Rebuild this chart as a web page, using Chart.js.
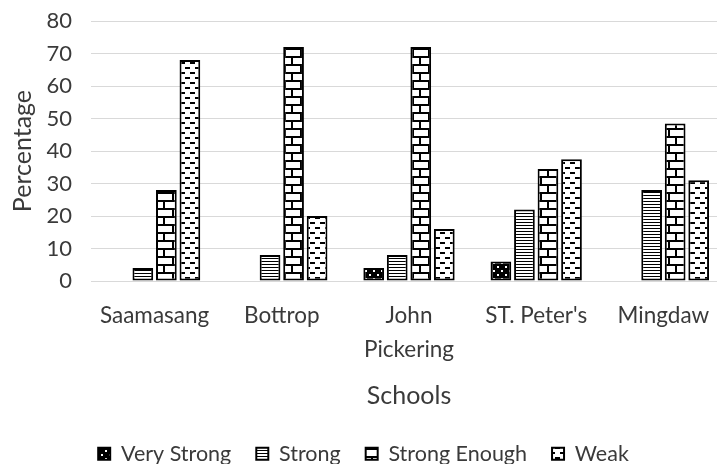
<!DOCTYPE html>
<html>
<head>
<meta charset="utf-8">
<script src="https://cdn.jsdelivr.net/npm/chart.js@4"></script>
<style>
  html, body { margin: 0; padding: 0; background: #fff; overflow: hidden; }
  .wrap { position: relative; width: 762px; height: 464px; }
</style>
</head>
<body>
<div class="wrap"><canvas id="chart"></canvas></div>
<script>
const schools = ['Saamasang', 'Bottrop', ['John', 'Pickering'], "ST. Peter's", 'Mingdaw'];
const veryStrong = [0, 0, 4, 6, 0];
const strong = [4, 8, 8, 22, 28];
const strongEnough = [28, 72, 72, 34.5, 48.5];
const weak = [68, 20, 16, 37.5, 31];

const FONT = 'Lato, "Open Sans", sans-serif';
const TEXT = '#3a3a3a';

function makePattern(w, h, draw) {
	const c = document.createElement('canvas');
	c.width = w;
	c.height = h;
	const g = c.getContext('2d');
	g.fillStyle = '#fff';
	g.fillRect(0, 0, w, h);
	g.fillStyle = '#000';
	draw(g);
	return g.createPattern(c, 'repeat');
}

// black with sparse white dots
const dotted = makePattern(8, 8, g => {
	g.fillRect(0, 0, 8, 8);
	g.fillStyle = '#fff';
	g.fillRect(1, 2, 2, 2);
	g.fillRect(5, 6, 2, 2);
});

// thin horizontal stripes
const striped = makePattern(4, 3, g => {
	g.fillRect(0, 0, 4, 1);
});

// brick wall
const brick = makePattern(16, 16, g => {
	g.fillRect(0, 0, 16, 2);
	g.fillRect(12, 0, 2, 8);
	g.fillRect(0, 8, 16, 2);
	g.fillRect(3, 8, 2, 8);
});

// staggered short dashes
const dashed = makePattern(10, 10, g => {
	g.fillRect(0, 2, 5, 2);
	g.fillRect(5, 7, 5, 2);
});

const series = [
	{ label: 'Very Strong', data: veryStrong, fill: dotted },
	{ label: 'Strong', data: strong, fill: striped },
	{ label: 'Strong Enough', data: strongEnough, fill: brick },
	{ label: 'Weak', data: weak, fill: dashed },
];

new Chart(document.getElementById('chart'), {
	type: 'bar',
	data: {
		labels: schools,
		datasets: series.map(s => ({
			label: s.label,
			data: s.data,
			backgroundColor: s.fill,
			borderColor: '#000',
			borderWidth: 2,
			borderSkipped: false,
			categoryPercentage: 0.74,
			barPercentage: 0.88,
		})),
	},
	options: {
		responsive: true,
		maintainAspectRatio: false,
		animation: false,
		layout: { padding: { top: 21, left: 0, right: 35, bottom: -10.6 } },
		plugins: {
			tooltip: { enabled: false },
			legend: {
				position: 'bottom',
				labels: {
					font: { family: FONT, size: 21.5 },
					color: TEXT,
					boxWidth: 12,
					boxHeight: 12,
					padding: 25,
				},
			},
		},
		scales: {
			x: {
				grid: { display: false, drawTicks: false },
				border: { color: '#d9d9d9', width: 1 },
				ticks: {
					color: TEXT,
					font: { family: FONT, size: 22.5, lineHeight: 1.5 },
					padding: 18,
					maxRotation: 0,
				},
				title: {
					display: true,
					text: 'Schools',
					color: TEXT,
					font: { family: FONT, size: 25 },
					padding: { top: 0, bottom: 7 },
				},
				afterFit: scale => { scale.height = 137; },
			},
			y: {
				min: 0,
				max: 80,
				ticks: {
					stepSize: 10,
					color: TEXT,
					font: { family: FONT, size: 22 },
					padding: 7,
				},
				// invisible tick marks keep the labels clear of the plot
				grid: { color: '#d9d9d9', lineWidth: 1, tickLength: 12, tickColor: 'transparent' },
				border: { display: false },
				title: {
					display: true,
					text: 'Percentage',
					color: TEXT,
					font: { family: FONT, size: 25 },
					padding: { top: 8, bottom: 0 },
				},
				afterFit: scale => { scale.width = 91; },
			},
		},
	},
});
</script>
</body>
</html>
